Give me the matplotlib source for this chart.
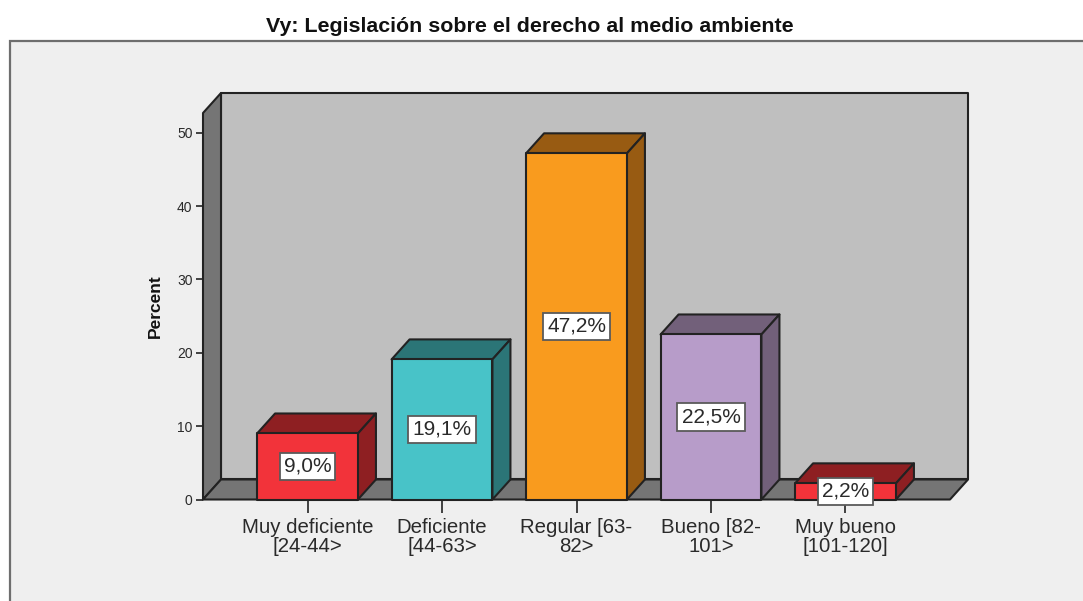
"""Vy bar chart with the SPSS style 3D box look, drawn on a plain 2D axes."""
import matplotlib
matplotlib.use("Agg")
import matplotlib.pyplot as plt
from matplotlib.patches import Polygon, Rectangle

plt.rcParams["font.family"] = ["Liberation Sans", "DejaVu Sans"]

TITLE = "Vy: Legislación sobre el derecho al medio ambiente"
CATEGORIES = ["Muy deficiente\n[24-44>", "Deficiente\n[44-63>", "Regular [63-\n82>",
              "Bueno [82-\n101>", "Muy bueno\n[101-120]"]
PERCENTS = [9.0, 19.1, 47.2, 22.5, 2.2]
LABELS = ["9,0%", "19,1%", "47,2%", "22,5%", "2,2%"]
Y_TICKS = [0, 10, 20, 30, 40, 50]
FRONT_COLORS = ["#F2333A", "#48C3C8", "#F99B1E", "#B79CC9", "#F2333A"]
DARK_COLORS = ["#8E1F22", "#2B7577", "#985B12", "#72607A", "#8E1F22"]

W, H = 1083, 601
EDGE = "#222222"
WALL = "#BFBFBF"
SHADE = "#757575"
BAR_WIDTH = 0.75
# depth of the fake 3D box, in data units (18 px across, 20 px up)
DX = 18 / 134.5
DY = 20 / 7.33
YTOP = 52.7


def box_side(ax, points, color, z):
    ax.add_patch(Polygon(points, closed=True, facecolor=color, edgecolor=EDGE,
                         linewidth=1.5, zorder=z, clip_on=False, joinstyle="round"))


fig = plt.figure(figsize=(W / 100, H / 100), dpi=100, facecolor="white")

# grey panel, runs off the right and bottom of the image
bg = fig.add_axes([0, 0, 1, 1])
bg.set_xlim(0, W)
bg.set_ylim(H, 0)
bg.axis("off")
bg.add_patch(Rectangle((10, 41), W + 20, H + 20, facecolor="#EFEFEF", edgecolor="#6E6E6E", linewidth=1.6))

left, right, bottom, top = 203, 950, 499.5, 113
ax = fig.add_axes([left / W, 1 - bottom / H, (right - left) / W, (bottom - top) / H])
ax.patch.set_visible(False)
ax.set_xlim(-0.777, 4.777)
ax.set_ylim(0, YTOP)
for spine in ax.spines.values():
    spine.set_visible(False)
ax.set_axisbelow(True)

x0, x1 = ax.get_xlim()
# back wall, side wall, floor
box_side(ax, [(x0 + DX, DY), (x1 + DX, DY), (x1 + DX, YTOP + DY), (x0 + DX, YTOP + DY)], WALL, 1)
box_side(ax, [(x0, 0), (x0 + DX, DY), (x0 + DX, YTOP + DY), (x0, YTOP)], SHADE, 1.1)
box_side(ax, [(x0, 0), (x1, 0), (x1 + DX, DY), (x0 + DX, DY)], SHADE, 1.1)

for i, value in enumerate(PERCENTS):
    xl, xr = i - BAR_WIDTH / 2, i + BAR_WIDTH / 2
    z = 3 + i * 0.1
    box_side(ax, [(xl, value), (xr, value), (xr + DX, value + DY), (xl + DX, value + DY)], DARK_COLORS[i], z)
    box_side(ax, [(xr, 0), (xr + DX, DY), (xr + DX, value + DY), (xr, value)], DARK_COLORS[i], z)
    box_side(ax, [(xl, 0), (xr, 0), (xr, value), (xl, value)], FRONT_COLORS[i], z)
    ax.text(i, value / 2, LABELS[i], ha="center", va="center", fontsize=15, color="#2A2A2A", zorder=6,
            clip_on=False, bbox=dict(boxstyle="square,pad=0.2", facecolor="white",
                                     edgecolor="#5A5A5A", linewidth=1.3))

ax.set_xticks(range(len(CATEGORIES)))
ax.set_xticklabels(CATEGORIES, fontsize=14.7, color="#2A2A2A", linespacing=1.0)
ax.set_yticks(Y_TICKS)
ax.set_yticklabels([str(t) for t in Y_TICKS], fontsize=10, color="#2A2A2A")
ax.tick_params(axis="x", length=9.5, width=1.3, color="#333333", pad=3.5)
ax.tick_params(axis="y", length=5, width=1.3, color="#333333", pad=2.5)

fig.text(155 / W, 1 - 306 / H, "Percent", rotation=90, ha="center", va="center",
         fontsize=12.5, fontweight="bold", color="#111111")
fig.text(530 / W, 1 - 26 / H, TITLE, ha="center", va="center", fontsize=15.4,
         fontweight="bold", color="#111111")

fig.savefig("out.png", dpi=100, facecolor=fig.get_facecolor())
